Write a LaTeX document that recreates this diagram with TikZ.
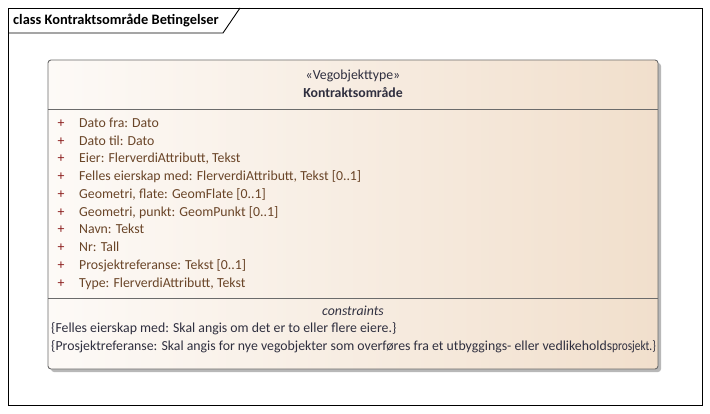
\documentclass[tikz,border=0pt]{standalone}
\usepackage{fontspec}
\usepackage{graphicx}
\setmainfont{Carlito}
\usetikzlibrary{positioning}
\definecolor{eaborder}{HTML}{6B6B6B}
\definecolor{eashadow}{HTML}{B8B8B8}
\definecolor{eafillleft}{HTML}{FDFAF7}
\definecolor{eafillright}{HTML}{F1DFCC}
\definecolor{eaplus}{HTML}{8B1C1C}
\definecolor{eabrown}{HTML}{6A4528}
\definecolor{eanavy}{HTML}{2F2F3F}

\begin{document}
\begin{tikzpicture}[x=1pt, y=-1pt,
    umltext/.style={font=\fontsize{13.8}{15}\selectfont, inner sep=0pt},
    attrtext/.style={umltext, text=eabrown, anchor=base west},
    plussign/.style={umltext, text=eaplus, anchor=base},
    constrtext/.style={umltext, text=eanavy, anchor=base west}]
    \useasboundingbox (0,0) rectangle (710,414);
    \fill[white] (0,0) rectangle (710,414);
    % === Diagram frame with title tab ===
    \draw[black, line width=0.9pt] (8,8) rectangle (702,405);
    \draw[black, line width=0.9pt] (8,33) -- (223,33) -- (240,8);
    \node[font=\fontsize{14.4}{16}\selectfont\bfseries, anchor=base west, inner sep=0pt] (title) at (13,25) {class Kontraktsområde Betingelser};
    % === Class box ===
    \fill[eashadow, rounded corners=3pt] (51,63) rectangle (661,372);
    \shade[left color=eafillleft, right color=eafillright, rounded corners=3pt] (48,60) rectangle (658,369);
    \draw[eaborder, line width=0.9pt, rounded corners=3pt] (48,60) rectangle (658,369);
    \draw[eaborder, line width=0.9pt] (48,109) -- (658,109);
    \draw[eaborder, line width=0.9pt] (48,298) -- (658,298);
    % Header
    \node[umltext, text=eanavy, anchor=base] (stereo) at (353,79.5) {«Vegobjekttype»};
    \node[umltext, text=eanavy, anchor=base, font=\fontsize{13.8}{15}\selectfont\bfseries] (classname) at (353,97.5) {Kontraktsområde};
    % Attributes
    \foreach \attr [count=\i] in {{Dato fra: Dato}, {Dato til: Dato}, {Eier: FlerverdiAttributt, Tekst},
        {Felles eierskap med: FlerverdiAttributt, Tekst [0..1]}, {Geometri, flate: GeomFlate [0..1]},
        {Geometri, punkt: GeomPunkt [0..1]}, {Navn: Tekst}, {Nr: Tall},
        {Prosjektreferanse: Tekst [0..1]}, {Type: FlerverdiAttributt, Tekst}} {
        \node[plussign] (plus\i) at (61, 127.5 + 17.75*\i - 17.75) {+};
        \node[attrtext] (attr\i) at (79, 127.5 + 17.75*\i - 17.75) {\attr};
    }
    % Constraints
    \node[umltext, text=eanavy, anchor=base, font=\fontsize{13.8}{15}\selectfont\itshape] (constrhead) at (353,315.5) {constraints};
    \node[constrtext] (constr1) at (51,333) {\{Felles eierskap med: Skal angis om det er to eller flere eiere.\}};
    \node[constrtext] (constr2) at (51,350.5) {\{Prosjektreferanse: Skal angis for nye vegobjekter som overføres fra et utbyggings- eller vedlikeholds\scalebox{0.82}[1]{\fontsize{13.8}{15}\selectfont prosjekt.\}}};
\end{tikzpicture}
\end{document}
